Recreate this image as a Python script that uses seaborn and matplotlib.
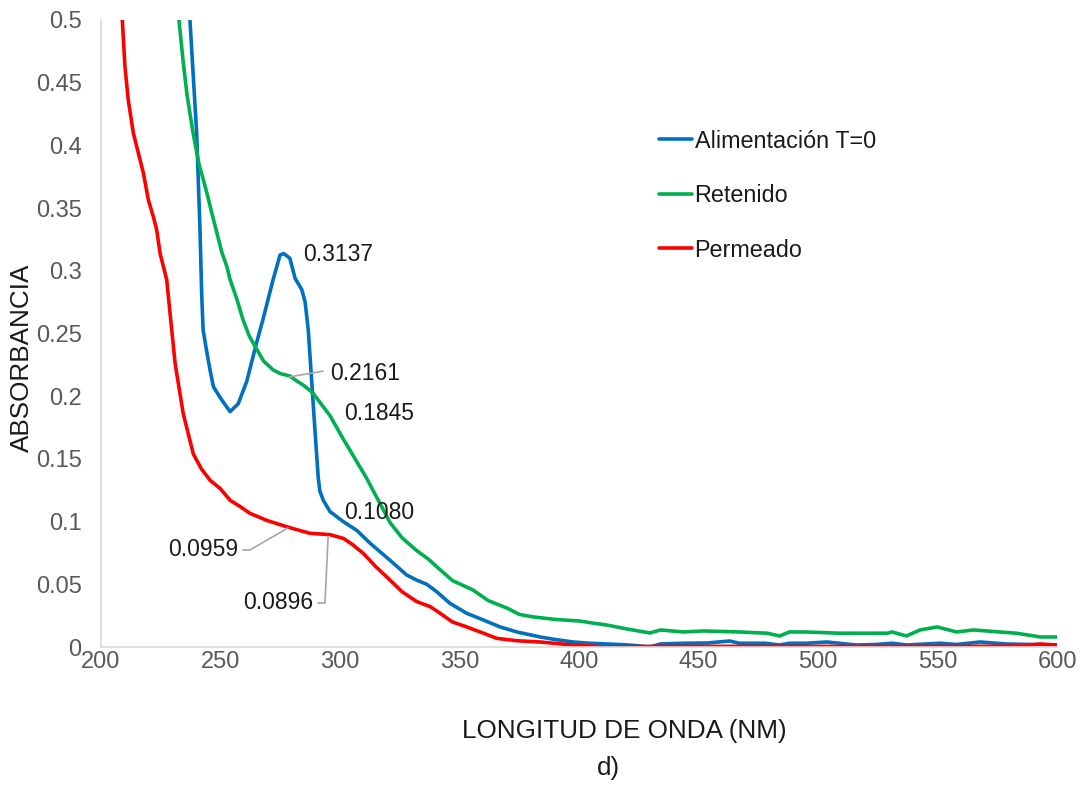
import matplotlib
matplotlib.use("Agg")
import matplotlib.pyplot as plt
import seaborn as sns
import pandas as pd
from matplotlib.ticker import FuncFormatter

# ---- data ----
alim_nm = [236, 237.2, 240, 241.4, 242.1, 242.7, 244.0, 245.5, 247, 250.5, 254, 257.4, 261, 265, 268,
           272, 274.9, 276.5, 279, 281.2, 284, 285.4, 286.7, 288.1, 289.5, 290.9, 291.6, 293,
           295.8, 301.4, 307, 312.6, 321, 327.9, 332, 336.3, 340.5, 346, 353, 360, 367, 374,
           383.7, 390, 397.5, 404.6, 411.7, 421, 429.7, 434, 443.5, 453.6, 463, 467, 478, 484,
           488, 495, 503.7, 516, 524, 531, 537, 551, 558, 567.8, 579, 590, 600]
alim_abs = [0.60, 0.50, 0.41, 0.333, 0.282, 0.253, 0.238, 0.222, 0.2076, 0.197, 0.1877, 0.194, 0.212,
            0.242, 0.263, 0.293, 0.3126, 0.3137, 0.310, 0.294, 0.285, 0.275, 0.253, 0.213,
            0.173, 0.1345, 0.124, 0.117, 0.108, 0.0999, 0.093, 0.0827, 0.069, 0.0574, 0.0534,
            0.050, 0.044, 0.0348, 0.0269, 0.0215, 0.016, 0.012, 0.008, 0.006, 0.004, 0.003,
            0.0024, 0.0016, 0.0, 0.0024, 0.003, 0.0032, 0.0048, 0.003, 0.003, 0.0016, 0.003,
            0.003, 0.004, 0.0016, 0.002, 0.003, 0.0016, 0.003, 0.002, 0.004, 0.0024, 0.002, 0.0016]

ret_nm = [231.5, 232.6, 234.3, 236, 238.5, 241, 244.3, 246.5, 248.5, 250.5, 252.7, 254, 256.9,
          259.4, 262, 265.3, 268, 272, 275, 279, 282, 284.5, 288.7, 292, 295.8, 301, 306, 311,
          316, 321, 326, 332, 337, 342, 347, 355.6, 362, 369.9, 375, 380.8, 390, 400.4, 406,
          411.7, 420, 429.7, 434, 443.5, 452, 467, 478.7, 484, 488, 495, 509, 529, 531, 537,
          542.7, 549.8, 558, 565, 576, 583, 593, 600]
ret_abs = [0.52, 0.50, 0.468, 0.44, 0.41, 0.385, 0.362, 0.345, 0.33, 0.315, 0.303, 0.293, 0.277,
           0.261, 0.248, 0.237, 0.228, 0.221, 0.218, 0.2161, 0.212, 0.209, 0.2025, 0.194, 0.1845,
           0.167, 0.151, 0.135, 0.117, 0.099, 0.087, 0.077, 0.070, 0.0614, 0.053, 0.0455, 0.037,
           0.031, 0.026, 0.024, 0.022, 0.0207, 0.019, 0.0175, 0.0144, 0.0112, 0.0136, 0.012,
           0.0128, 0.012, 0.011, 0.0088, 0.012, 0.012, 0.011, 0.011, 0.012, 0.0088, 0.0136,
           0.016, 0.012, 0.0136, 0.012, 0.011, 0.008, 0.008]

perm_nm = [205.5, 208.9, 210, 211.4, 213.5, 217.7, 219.8, 221.9, 223.3, 224.7, 227.5, 228.2, 231,
           234.4, 238.6, 242, 245.6, 249.8, 254, 258.2, 262.3, 269.3, 277.7, 283, 287.4, 295.8,
           301.4, 305, 309.7, 315, 320.9, 326, 332.1, 337.7, 341.8, 347, 353, 360, 365.6, 374,
           383.7, 397.5, 411.7, 430, 450, 480, 520, 560, 585, 593, 600]
perm_abs = [0.53, 0.50, 0.463, 0.436, 0.41, 0.378, 0.3565, 0.343, 0.3325, 0.314, 0.2927, 0.279,
            0.226, 0.186, 0.154, 0.142, 0.133, 0.1265, 0.117, 0.112, 0.1066, 0.101, 0.0959,
            0.093, 0.0907, 0.0896, 0.0866, 0.082, 0.0747, 0.064, 0.0534, 0.044, 0.0362, 0.0322,
            0.027, 0.020, 0.016, 0.011, 0.0069, 0.005, 0.004, 0.0016, 0.0, 0.0005, 0.0005,
            0.0005, 0.0005, 0.0005, 0.0008, 0.0024, 0.0016]

series_names = ["Alimentación T=0", "Retenido", "Permeado"]
series_colors = ["#0070C0", "#00B050", "#FF0000"]

x_ticks = [200, 250, 300, 350, 400, 450, 500, 550, 600]
y_ticks = [0, 0.05, 0.1, 0.15, 0.2, 0.25, 0.3, 0.35, 0.4, 0.45, 0.5]

# ---- plot ----
sns.set_theme(style="white")
plt.rcParams['font.family'] = ['Liberation Sans', 'DejaVu Sans']

fig = plt.figure(figsize=(10.83, 7.9), dpi=100)
ax = fig.add_axes([0.0933, 0.181, 0.8827, 0.7937])

for nm, ab, name, col in zip([alim_nm, ret_nm, perm_nm], [alim_abs, ret_abs, perm_abs],
                             series_names, series_colors):
    df = pd.DataFrame({"nm": nm, "abs": ab})
    sns.lineplot(data=df, x="nm", y="abs", ax=ax, color=col, lw=2.6, label=name,
                 sort=False, estimator=None)

ax.set_xlim(200, 600)
ax.set_ylim(0, 0.5)
ax.set_xticks(x_ticks)
ax.set_yticks(y_ticks)
ax.yaxis.set_major_formatter(FuncFormatter(lambda v, p: ("%g" % round(v, 2))))
ax.tick_params(axis='both', labelsize=17, labelcolor="#595959", length=0)
ax.tick_params(axis='x', pad=3)
ax.tick_params(axis='y', pad=14)

for s in ["top", "right"]:
    ax.spines[s].set_visible(False)
for s in ["left", "bottom"]:
    ax.spines[s].set_color("#D9D9D9")
    ax.spines[s].set_linewidth(1.2)

ax.set_xlabel("")
ax.set_ylabel("")
fig.text(624 / 1083, 1 - 731 / 790, "LONGITUD DE ONDA (NM)", fontsize=18.8, color="#1a1a1a",
         ha="center", va="center")
fig.text(608 / 1083, 1 - 768 / 790, "d)", fontsize=18.8, color="#1a1a1a",
         ha="center", va="center")
fig.text(22 / 1083, 1 - 358 / 790, "ABSORBANCIA", fontsize=18.8, color="#1a1a1a",
         ha="center", va="center", rotation=90)

# data labels
lab_kw = dict(fontsize=16.5, color="#1a1a1a", va="center")
ax.text(284.5, 0.313, "0.3137", ha="left", **lab_kw)
ax.text(296.0, 0.2185, "0.2161", ha="left", **lab_kw)
ax.text(301.8, 0.186, "0.1845", ha="left", **lab_kw)
ax.text(301.8, 0.107, "0.1080", ha="left", **lab_kw)
ax.text(257.5, 0.0774, "0.0959", ha="right", **lab_kw)
ax.text(288.8, 0.0351, "0.0896", ha="right", **lab_kw)

lead = dict(color="#A6A6A6", lw=1.2)
ax.plot([278.7, 292.9], [0.2153, 0.2200], **lead)
ax.plot([259.4, 262.3, 278.2], [0.0774, 0.0774, 0.0949], **lead)
ax.plot([290.8, 293.7, 295.0], [0.0351, 0.0351, 0.0877], **lead)

leg = ax.legend(loc="upper left", bbox_to_anchor=(0.574, 0.84), frameon=False, fontsize=16.8,
                handlelength=1.4, handletextpad=0.12, labelspacing=1.35, borderaxespad=0)
for t in leg.get_texts():
    t.set_color("#1a1a1a")

fig.savefig("out.png", dpi=100)
